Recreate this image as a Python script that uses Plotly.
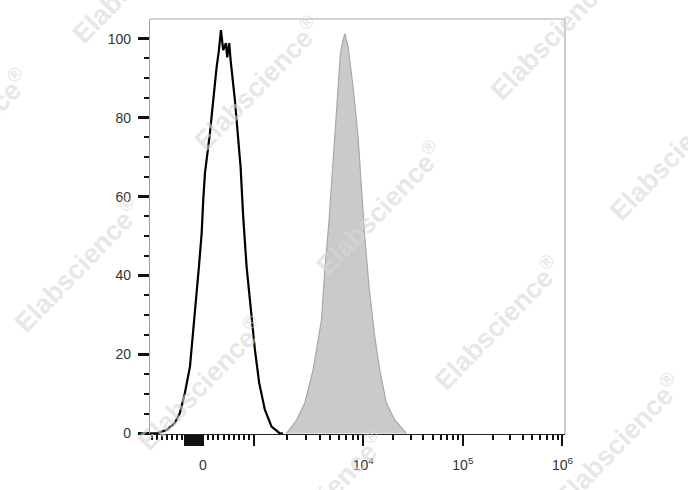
import numpy as np
import plotly.graph_objects as go

# ---------------- data (intensity units, % of max) ----------------
iso_x = [-1030, -893, -699, -544, -447, -350, -252, -188, -136, -78, -25, 6, 39, 136, 200,
         266, 311, 350, 394, 447, 472, 511, 538, 621, 732, 783, 849, 926, 1011, 1107,
         1248, 1438, 1714, 1826]
iso_y = [0, 0, 0.9, 2.7, 5.2, 10.3, 16.9, 25.5, 33.8, 42.2, 50.7, 59.1, 65.9, 76.1, 84.5,
         92.8, 97.1, 102.2, 97.1, 98.9, 95.3, 98.9, 94.6, 84.5, 67.5, 54.8, 42.2, 31.3, 21.2, 12.8,
         6.0, 1.7, 0, 0]

stain_x = [1974, 2439, 2906, 3463, 4135, 4434, 4857, 5218, 5594, 5998, 6178, 6528, 6767,
           7254, 8062, 8960, 9627, 10353, 11435, 13045, 14640, 17088, 20700, 27130]
stain_y = [0, 3.4, 7.7, 16.1, 28.8, 41.4, 54.1, 66.7, 79.4, 92.1, 96.4, 99.6, 101.3,
           98.0, 87.8, 75.2, 62.5, 49.8, 37.2, 24.5, 16.1, 7.7, 3.4, 0]

x_label_vals = [0, 10000, 100000, 1000000]
x_label_text = ["0", "10<sup>4</sup>", "10<sup>5</sup>", "10<sup>6</sup>"]
x_long_vals = [1000] + list(range(-340, 0, 20))          # unlabeled long ticks
x_minor_vals = ([-1000, -900, -800, -700, -600, -500, -400]
                + [100, 200, 300, 400, 500, 600, 700, 800, 900]
                + [k * 1000 for k in range(2, 10)]
                + [k * 10000 for k in range(2, 10)]
                + [k * 100000 for k in range(2, 10)])
y_major_vals = [0, 20, 40, 60, 80, 100]
y_minor_vals = [5, 10, 15, 25, 30, 35, 45, 50, 55, 65, 70, 75, 85, 90, 95]

watermark_text = "Elabscience<sup>®</sup>"
watermark_px = [(257, 83), (77, 265), (200, 383), (379, 208), (497, 323), (553, 33),
                (673, 153), (618, 440), (135, -24), (-35, 135), (321, 497)]

# ---------------- biexponential-like display transform ----------------
U0 = 4 + (203 - 363.5) / 99.7      # display position of 0
U1K = 4 + (254.5 - 363.5) / 99.7   # display position of 1000


def biex(v):
    v = np.asarray(v, dtype=float)
    out = np.empty_like(v)
    lin = v <= 1000
    out[lin] = U0 + v[lin] * (U1K - U0) / 1000.0
    mid = (v > 1000) & (v < 1e4)
    out[mid] = U1K + (4 - U1K) * np.log10(v[mid] / 1000.0)
    hi = v >= 1e4
    out[hi] = np.log10(v[hi])
    return out


FONT = "Arial, 'Liberation Sans', sans-serif"
W, H = 688, 490
L, R, T, B = 150, 122.5, 19, 55.7
PW, PH = W - L - R, H - T - B
XR = [4 + (150 - 363.5) / 99.7, 4 + (565.5 - 363.5) / 99.7]

fig = go.Figure()
fig.add_trace(go.Scatter(
    x=biex(stain_x), y=stain_y, mode="lines", fill="tozeroy",
    fillcolor="#cacaca", line=dict(color="#a8a8a8", width=1.2), hoverinfo="skip"))
fig.add_trace(go.Scatter(
    x=biex(iso_x), y=iso_y, mode="lines",
    line=dict(color="#000000", width=2.2), hoverinfo="skip"))

fig.update_layout(
    xaxis=dict(
        range=XR,
        tickmode="array", tickvals=list(biex(x_label_vals)), ticktext=x_label_text,
        ticks="outside", ticklen=11, tickwidth=2.4, tickcolor="#111",
        ticklabelstandoff=7,
        minor=dict(tickmode="array", tickvals=list(biex(x_minor_vals)),
                   ticks="outside", ticklen=5, tickwidth=1.8, tickcolor="#111", showgrid=False),
        showline=True, linecolor="#222", linewidth=1.2,
        showgrid=False, zeroline=False, automargin=False,
        tickfont=dict(family=FONT, size=14, color="#333"),
    ),
    xaxis2=dict(
        range=XR, overlaying="x", side="bottom", matches="x",
        tickmode="array", tickvals=list(biex(x_long_vals)),
        ticks="outside", ticklen=11, tickwidth=1.6, tickcolor="#111",
        showticklabels=False, showline=False, showgrid=False, zeroline=False,
        automargin=False,
    ),
    yaxis=dict(
        range=[-0.15, 105.0],
        tickmode="array", tickvals=y_major_vals, ticktext=[str(v) for v in y_major_vals],
        ticks="outside", ticklen=11, tickwidth=2.6, tickcolor="#111",
        ticklabelstandoff=4,
        minor=dict(tickmode="array", tickvals=y_minor_vals,
                   ticks="outside", ticklen=5, tickwidth=2, tickcolor="#111", showgrid=False),
        showline=True, linecolor="#a0a0a0", linewidth=1.2,
        showgrid=False, zeroline=False, automargin=False,
        tickfont=dict(family=FONT, size=14, color="#333"),
    ),
)
# invisible helper trace so the second x axis is drawn
fig.add_trace(go.Scatter(x=[XR[0]], y=[0], xaxis="x2", mode="markers",
                         marker=dict(opacity=0), hoverinfo="skip"))

# frame (top and right, light gray)
fig.add_shape(type="line", xref="paper", yref="paper", x0=0, x1=1, y0=1, y1=1,
              line=dict(color="#a8a8a8", width=1.2))
fig.add_shape(type="line", xref="paper", yref="paper", x0=1, x1=1, y0=0, y1=1,
              line=dict(color="#a8a8a8", width=1.2))

for (px, py) in watermark_px:
    fig.add_annotation(
        x=(px - L) / PW, y=1 - (py - T) / PH, xref="paper", yref="paper",
        text=watermark_text, showarrow=False, textangle=-46,
        font=dict(family=FONT, size=27, color="rgba(215,215,215,0.6)", weight="bold"),
        xanchor="center", yanchor="middle")

fig.update_layout(
    width=W, height=H, autosize=False,
    margin=dict(l=L, r=R, t=T, b=B, pad=0),
    paper_bgcolor="white", plot_bgcolor="white",
    showlegend=False,
)

fig.write_html("out.html", config={"displayModeBar": False},
               post_script="document.body.style.margin='0px';")
